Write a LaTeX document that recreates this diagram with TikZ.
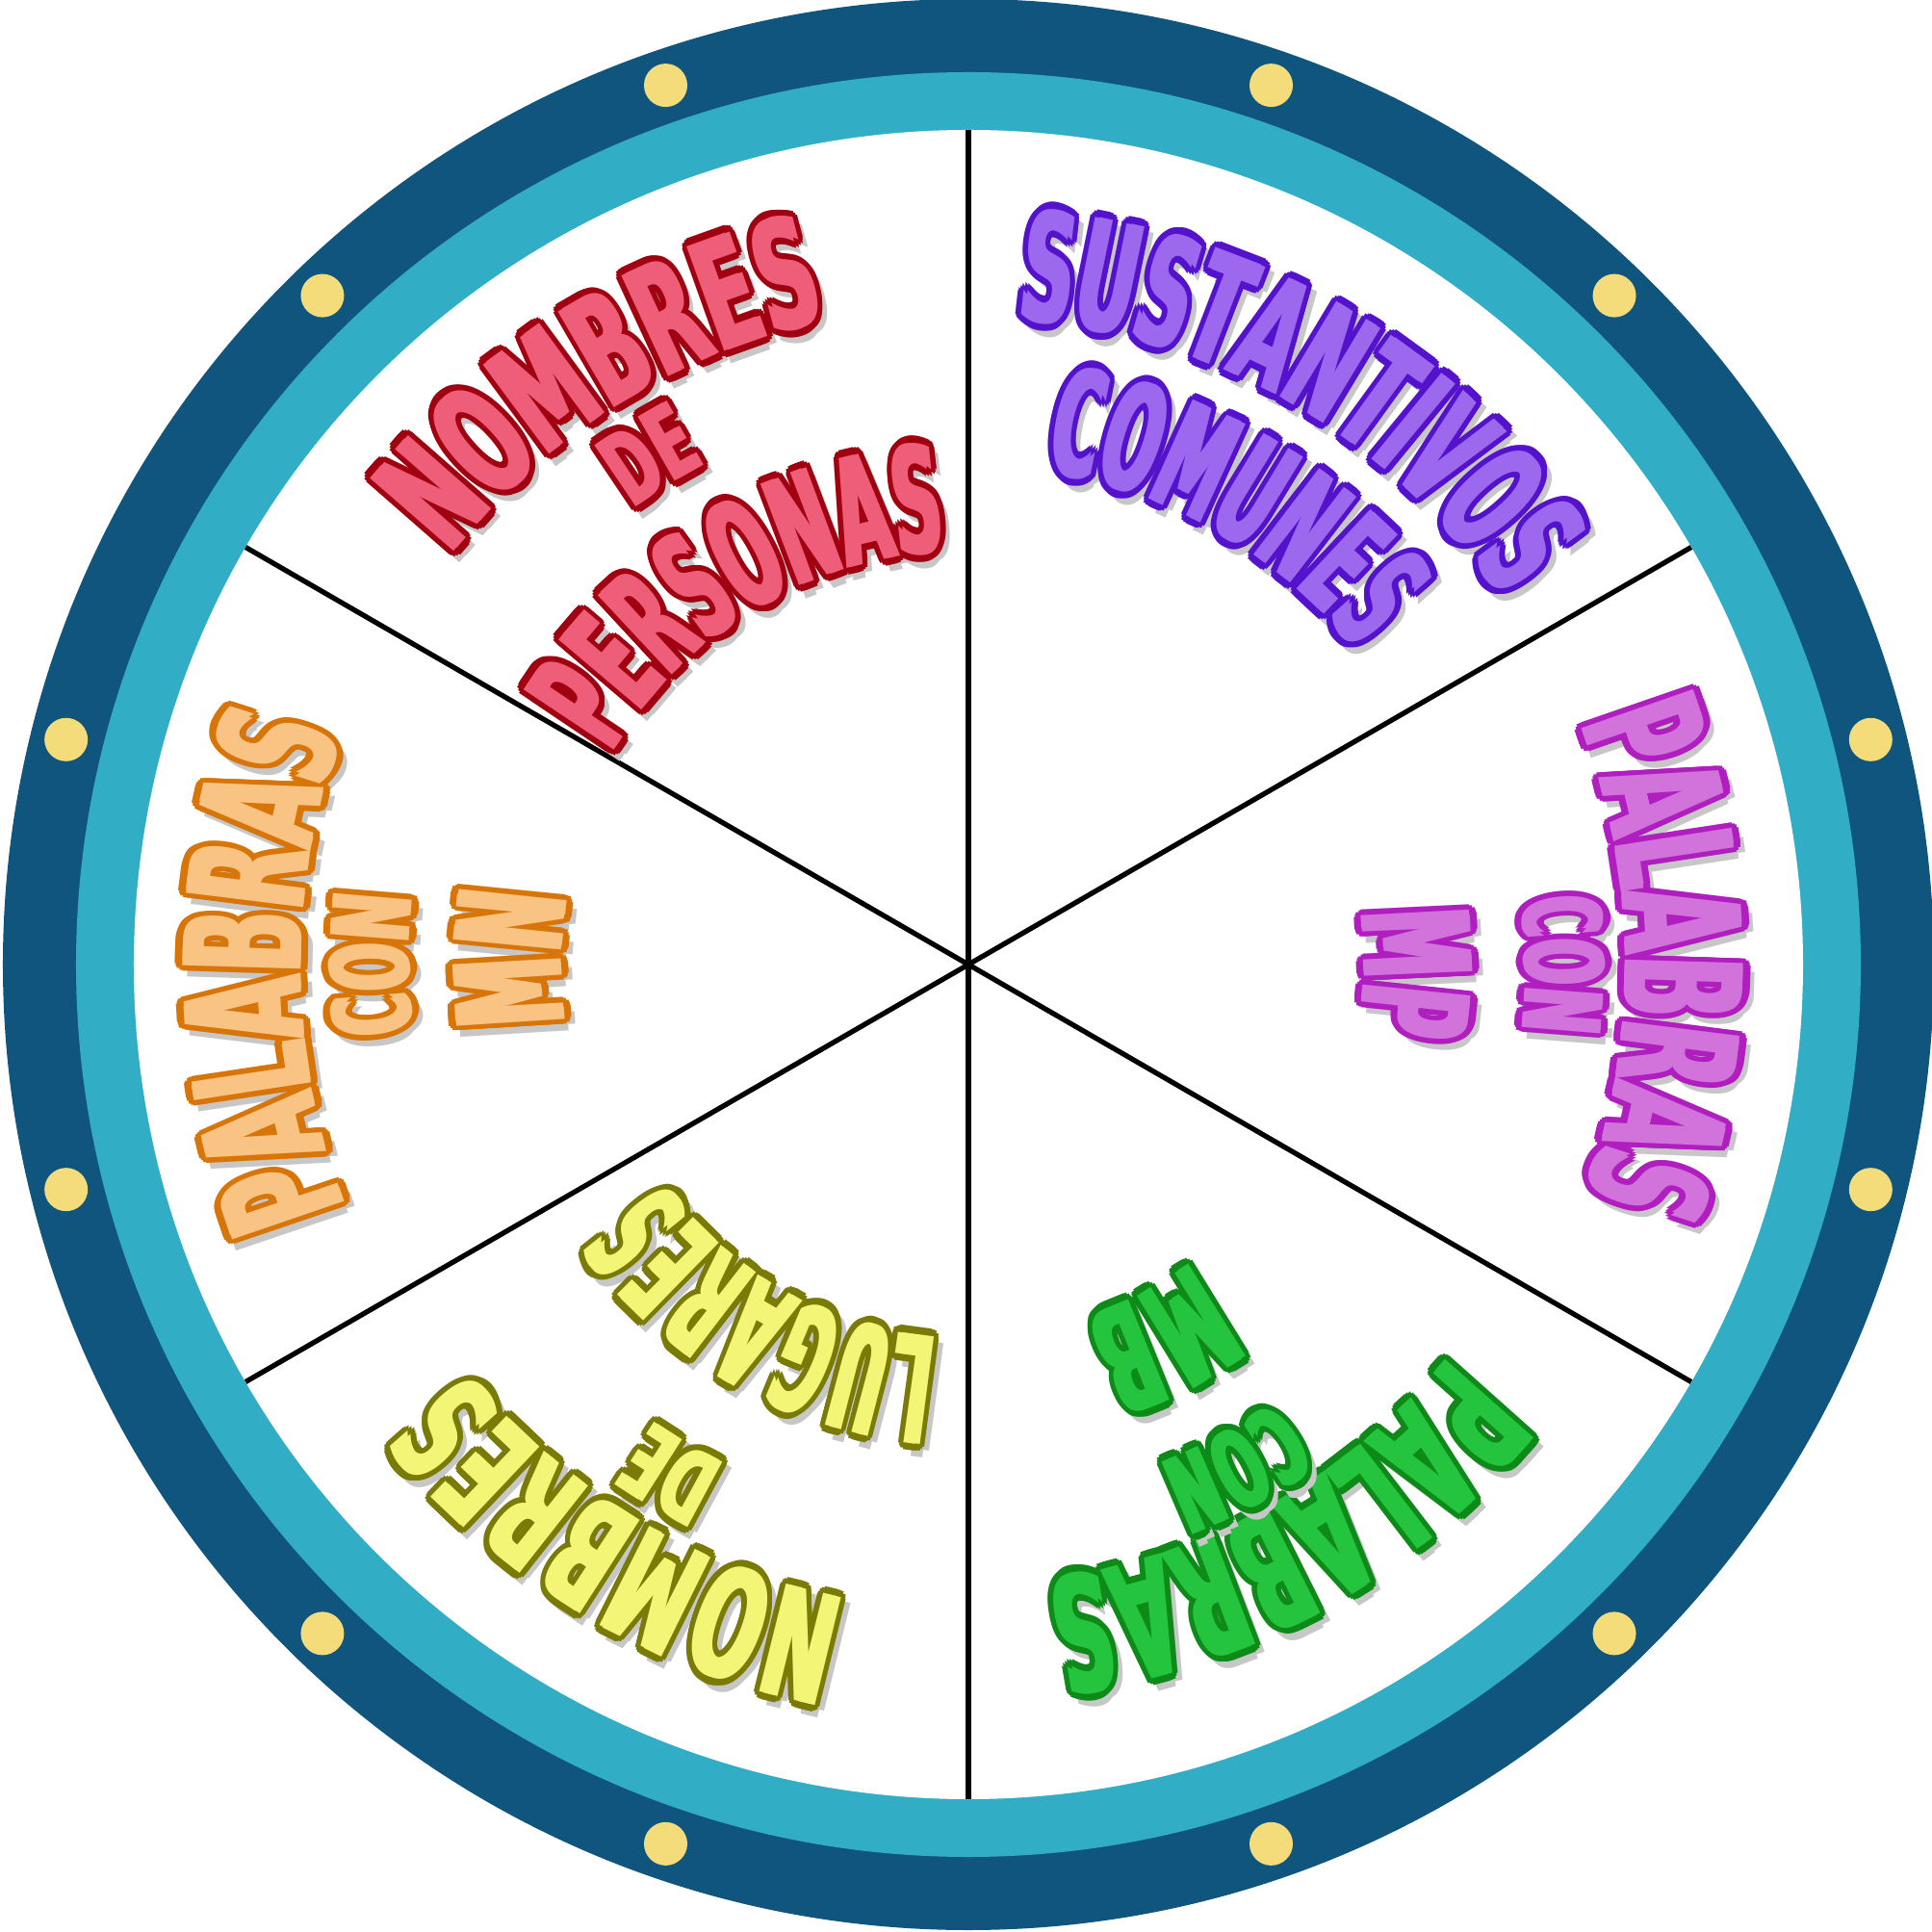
\documentclass[tikz,border=0pt]{standalone}
\usepackage{fontspec}
\usetikzlibrary{decorations.text}
\newfontfamily\wheelfont{DejaVu Sans Bold}
\definecolor{wheelnavy}{HTML}{10557E}
\definecolor{wheelteal}{HTML}{31ADC6}
\definecolor{wheeldot}{HTML}{F5DC7B}
\definecolor{redfill}{HTML}{EF5E78}
\definecolor{redline}{HTML}{A0000F}
\definecolor{purplefill}{HTML}{9B68EE}
\definecolor{purpleline}{HTML}{5512CC}
\definecolor{orchidfill}{HTML}{D273DC}
\definecolor{orchidline}{HTML}{B01EC0}
\definecolor{greenfill}{HTML}{25C43F}
\definecolor{greenline}{HTML}{0E8A18}
\definecolor{yellowfill}{HTML}{F2F575}
\definecolor{yellowline}{HTML}{7A7A06}
\definecolor{orangefill}{HTML}{F9C383}
\definecolor{orangeline}{HTML}{D87508}
\tikzset{
  spoke/.style ={line width=1.5pt,draw=black},
  stud/.style  ={fill=wheeldot},
  wordarc/.style={decorate,decoration={text along path,text align=center,
                  text={|\wordfont\color{#1}|\wordtext}}}
}
% #1 angle, #2 radius, #3 size, #4 stretch, #5 fill, #6 outline, #7 word
\newcommand\arcword[7]{%
  \def\wordfont{\wheelfont\addfontfeatures{FakeStretch=#4}\fontsize{#3}{#3}\selectfont}%
  \def\wordtext{#7}%
  \pgfmathsetmacro\tw{0.02/#2*57.2958}%
  \foreach \a in {0,90,180,270}
    \path[shift={(0.05,-0.07)},shift={(\a:0.07)},wordarc=black!22]
      (#1+75:#2) arc[start angle=#1+75,end angle=#1-75,radius=#2];
  \foreach \a in {0,22.5,...,337.5}
    \path[shift={(\a:0.075)},wordarc=#6]
      (#1+75:#2) arc[start angle=#1+75,end angle=#1-75,radius=#2];
  \foreach \s in {-1,1}
    \path[rotate=\s*\tw,wordarc=#5]
      (#1+75:#2) arc[start angle=#1+75,end angle=#1-75,radius=#2];
}

\begin{document}
\begin{tikzpicture}
  \useasboundingbox (-10.06,-10.05) rectangle (10.01,10.02);
  \coordinate (hub) at (0,0);
  % rings
  \fill[wheelnavy] (hub) circle (10.03);
  \fill[wheelteal] (hub) circle (9.27);
  \fill[white] (hub) circle (8.67);
  \foreach \a in {14,46,71,109,134,166,194,226,251,289,314,346}
    \fill[stud] (\a:9.66) circle (0.225);
  % spokes
  \foreach \a in {30,90,...,330}
    \draw[spoke] (hub) -- (\a:8.67);
  % words
  \arcword{122}{6.85}{45pt}{0.53}{redfill}{redline}{NOMBRES}
  \arcword{122}{5.87}{30pt}{0.55}{redfill}{redline}{DE}
  \arcword{121.2}{4.3}{44pt}{0.45}{redfill}{redline}{PERSONAS}
  \arcword{60}{6.72}{45pt}{0.48}{purplefill}{purpleline}{SUSTANTIVOS}
  \arcword{60}{5.18}{44pt}{0.44}{purplefill}{purpleline}{COMUNES}
  \arcword{0.5}{6.82}{48pt}{0.5}{orchidfill}{orchidline}{PALABRAS}
  \arcword{0}{5.78}{32pt}{0.5}{orchidfill}{orchidline}{CON}
  \arcword{-1}{4.1}{44pt}{0.47}{orchidfill}{orchidline}{MP}
  \arcword{-61}{6.43}{48pt}{0.49}{greenfill}{greenline}{PALABRAS}
  \arcword{-62}{5.54}{32pt}{0.5}{greenfill}{greenline}{CON}
  \arcword{-62.5}{3.85}{44pt}{0.47}{greenfill}{greenline}{MB}
  \arcword{239}{6.7}{45pt}{0.53}{yellowfill}{yellowline}{NOMBRES}
  \arcword{239.7}{5.76}{30pt}{0.55}{yellowfill}{yellowline}{DE}
  \arcword{240.3}{3.88}{44pt}{0.42}{yellowfill}{yellowline}{LUGARES}
  \arcword{180.5}{6.93}{48pt}{0.5}{orangefill}{orangeline}{PALABRAS}
  \arcword{180}{5.81}{32pt}{0.52}{orangefill}{orangeline}{CON}
  \arcword{179.3}{4.22}{44pt}{0.47}{orangefill}{orangeline}{MN}
\end{tikzpicture}
\end{document}
